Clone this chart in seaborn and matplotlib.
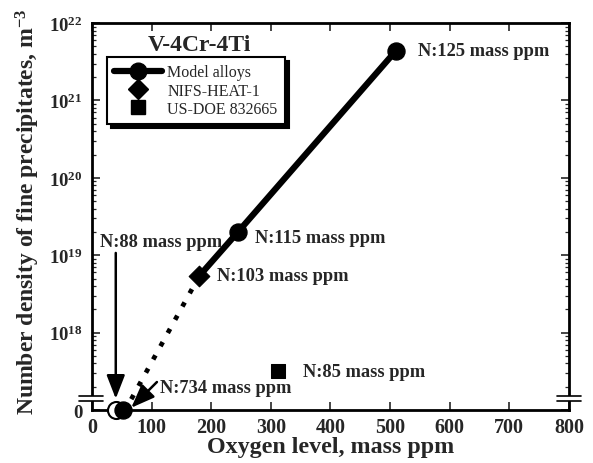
import numpy as np
import pandas as pd
import matplotlib
matplotlib.use("Agg")
import matplotlib.pyplot as plt
import seaborn as sns
from matplotlib.ticker import FixedLocator, FuncFormatter, LogLocator, NullFormatter
from matplotlib.lines import Line2D
from matplotlib.patches import Rectangle

# ---------------- data ----------------
model_oxygen = [52, 245, 510]            # mass ppm
model_density = [0, 2.0e19, 4.4e21]      # m^-3
model_open_oxygen = [41]
model_open_density = [0]
nifs_oxygen = [180]
nifs_density = [5.4e18]
usdoe_oxygen = [312]
usdoe_density = [3.2e17]
series_names = ["Model alloys", "NIFS-HEAT-1", "US-DOE 832665"]
y_tick_exponents = [18, 19, 20, 21, 22]
x_ticks = [0, 100, 200, 300, 400, 500, 600, 700, 800]

ZERO_LEVEL = 1e17   # where "0" sits on the broken log axis


def ypos(v):
    return [ZERO_LEVEL if d == 0 else d for d in v]


# ---------------- style ----------------
sns.set_style("ticks")
plt.rcParams["font.family"] = ["Liberation Serif", "DejaVu Serif"]
plt.rcParams["mathtext.fontset"] = "custom"
plt.rcParams["mathtext.rm"] = "Liberation Serif"
plt.rcParams["mathtext.bf"] = "Liberation Serif:bold"
plt.rcParams["mathtext.it"] = "Liberation Serif:italic"

fig = plt.figure(figsize=(5.93, 4.64), dpi=100)
ax = fig.add_axes([0.155, 0.1142, 0.8045, 0.834])
ax.set_yscale("log")

# solid trend: NIFS diamond -> model alloys
solid = pd.DataFrame({"x": nifs_oxygen + model_oxygen[1:],
                      "y": nifs_density + model_density[1:]})
sns.lineplot(data=solid, x="x", y="y", color="black", lw=4.5, sort=False,
             estimator=None, ax=ax, zorder=3)
# dotted trend: NIFS diamond -> zero-level model alloy
dotted = pd.DataFrame({"x": nifs_oxygen + [model_oxygen[0] + 4],
                       "y": nifs_density + ypos([model_density[0]])})
sns.lineplot(data=dotted, x="x", y="y", color="black", lw=3.4, sort=False,
             estimator=None, ax=ax, zorder=3)
ax.lines[-1].set_linestyle((0, (1, 2.2)))
ax.lines[-1].set_dash_capstyle("butt")

# markers
sns.scatterplot(x=model_open_oxygen, y=ypos(model_open_density), marker="o",
                s=150, facecolor="white", edgecolor="black", linewidth=1.5,
                ax=ax, zorder=4, clip_on=False)
sns.scatterplot(x=model_oxygen, y=ypos(model_density), marker="o", s=150,
                color="black", edgecolor="black", ax=ax, zorder=5, clip_on=False)
sns.scatterplot(x=nifs_oxygen, y=nifs_density, marker="D", s=110,
                color="black", edgecolor="black", ax=ax, zorder=5)
sns.scatterplot(x=usdoe_oxygen, y=usdoe_density, marker="s", s=90,
                color="black", edgecolor="black", ax=ax, zorder=5)

# ---------------- axes ----------------
ax.set_xlim(0, 800)
ax.set_ylim(ZERO_LEVEL, 1e22)
ax.xaxis.set_major_locator(FixedLocator(x_ticks))
ax.yaxis.set_major_locator(FixedLocator([ZERO_LEVEL] + [10.0 ** e for e in y_tick_exponents]))
ax.yaxis.set_minor_locator(LogLocator(base=10, subs=np.arange(2, 10)))
ax.yaxis.set_minor_formatter(NullFormatter())


def yfmt(v, pos):
    if abs(v - ZERO_LEVEL) / ZERO_LEVEL < 1e-6:
        return "0"
    return r"$\mathbf{10^{%d}}$" % int(round(np.log10(v)))


ax.yaxis.set_major_formatter(FuncFormatter(yfmt))
ax.tick_params(which="major", direction="in", top=True, right=True,
               length=6, width=1.2, labelsize=13.5, pad=7)
ax.tick_params(axis="x", which="major", labelsize=14.5, pad=5)
ax.tick_params(which="minor", direction="in", top=False, right=True,
               length=3, width=0.9)
ax.tick_params(axis="x", which="minor", bottom=False, top=False)
for lab in ax.get_xticklabels() + ax.get_yticklabels():
    lab.set_fontweight("bold")
for sp in ax.spines.values():
    sp.set_linewidth(2)
    sp.set_color("black")

ax.set_xlabel("Oxygen level, mass ppm", fontsize=17.3, fontweight="bold")
ax.set_ylabel(r"Number density of fine precipitates, m$^{\mathbf{-3}}$",
              fontsize=17, fontweight="bold")
ax.xaxis.set_label_coords(0.5, -0.066)
ax.yaxis.set_label_coords(-0.104, 0.514)

# axis breaks
for x0, x1 in [(-0.027, 0.023), (0.975, 1.025)]:
    xm = 0 if x0 < 0 else 1
    ax.add_patch(Rectangle((xm - 0.006, 0.023), 0.012, 0.013, transform=ax.transAxes,
                           facecolor="white", edgecolor="none", clip_on=False, zorder=6))
    for yy in (0.023, 0.036):
        ax.plot([x0, x1], [yy, yy], transform=ax.transAxes, color="black",
                lw=1.2, clip_on=False, zorder=7)

# title
ax.text(0.226, 0.944, "V-4Cr-4Ti", transform=ax.transAxes, ha="center",
        va="center", fontsize=17, fontweight="bold")

# annotations
labels = [
    ("N:125 mass ppm", 546, 4.4e21),
    ("N:115 mass ppm", 273, 1.7e19),
    ("N:103 mass ppm", 209, 5.4e18),
    ("N:85 mass ppm", 354, 3.1e17),
    ("N:88 mass ppm", 13, 1.5e19),
    ("N:734 mass ppm", 114, 1.95e17),
]
for txt, x, y in labels:
    ax.text(x, y, txt, ha="left", va="center", fontsize=13.3, fontweight="bold",
            zorder=8)

arrow_style = "-|>,head_length=0.72,head_width=0.28"
ax.annotate("", xy=(40, 1.4e17), xytext=(40, 1.07e19),
            arrowprops=dict(arrowstyle=arrow_style, lw=1.8, color="black",
                            mutation_scale=20, shrinkA=0, shrinkB=0), zorder=8)
ax.annotate("", xy=(66, 1.07e17), xytext=(109, 2.3e17),
            arrowprops=dict(arrowstyle=arrow_style, lw=1.8, color="black",
                            mutation_scale=20, shrinkA=0, shrinkB=0), zorder=8)

# legend
handles = [
    Line2D([], [], color="black", lw=4.5, marker="o", markersize=12),
    Line2D([], [], color="black", lw=0, marker="D", markersize=10),
    Line2D([], [], color="black", lw=0, marker="s", markersize=9.5),
]
leg = ax.legend(handles, series_names, loc="upper left",
                bbox_to_anchor=(0.031, 0.912), prop={"size": 11.5},
                frameon=True, fancybox=False, edgecolor="black",
                shadow={"color": "black", "alpha": 1, "ox": 3, "oy": -3},
                handlelength=3.0, handletextpad=0.35, labelspacing=0.15,
                borderpad=0.45, borderaxespad=0)
leg.get_frame().set_linewidth(1.5)
leg.get_frame().set_alpha(1)

fig.savefig("out.png", dpi=100)
